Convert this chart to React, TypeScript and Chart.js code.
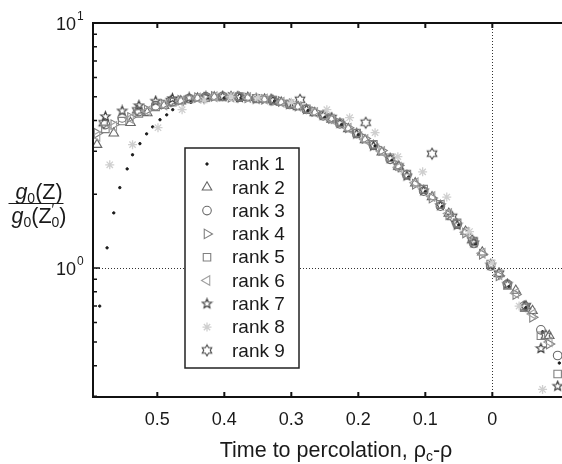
import React, { useEffect, useRef } from 'react';
import { Chart, registerables } from 'chart.js';
import { drawPoint } from 'chart.js/helpers';

Chart.register(...registerables);

// ---------------- data ----------------
const X_TICKS = [0.5, 0.4, 0.3, 0.2, 0.1, 0];
const Y_MAJOR = [1, 10];
const Y_MINOR = [0.3, 0.4, 0.5, 0.6, 0.7, 0.8, 0.9, 2, 3, 4, 5, 6, 7, 8, 9];
const LEGEND_LABELS = ['rank 1', 'rank 2', 'rank 3', 'rank 4', 'rank 5', 'rank 6', 'rank 7', 'rank 8', 'rank 9'];

const X_A = [0.59, 0.565, 0.54, 0.515, 0.49, 0.465, 0.44, 0.415, 0.39, 0.365, 0.34, 0.315, 0.29, 0.265, 0.24, 0.215, 0.19, 0.165, 0.14, 0.115, 0.09, 0.065, 0.04, 0.015, -0.01, -0.035, -0.06, -0.085];
const X_B = [0.5775, 0.5525, 0.5275, 0.5025, 0.4775, 0.4525, 0.4275, 0.4025, 0.3775, 0.3525, 0.3275, 0.3025, 0.2775, 0.2525, 0.2275, 0.2025, 0.1775, 0.1525, 0.1275, 0.1025, 0.0775, 0.0525, 0.0275, 0.0025, -0.0225, -0.0475, -0.0725, -0.0975];

const RANK1_X = [0.586, 0.575, 0.565, 0.556, 0.545, 0.537, 0.526, 0.516, 0.507, 0.496, 0.486, 0.477, 0.45, 0.425, 0.4, 0.375, 0.35, 0.325, 0.3, 0.275, 0.25, 0.225, 0.2, 0.175, 0.15, 0.125, 0.1, 0.075, 0.05, 0.025, 0.0, -0.025, -0.05, -0.075, -0.1];
const RANK1_Y = [0.7, 1.21, 1.68, 2.13, 2.54, 2.9, 3.22, 3.53, 3.77, 4.03, 4.22, 4.43, 4.75, 4.9, 4.95, 4.95, 4.9, 4.8, 4.62, 4.4, 4.12, 3.85, 3.5, 3.15, 2.75, 2.35, 2.05, 1.78, 1.5, 1.25, 1.0, 0.84, 0.69, 0.55, 0.41];
const RANK2_Y = [3.19, 3.55, 3.92, 4.3, 4.6, 4.8, 4.93, 4.98, 5.0, 4.96, 4.88, 4.74, 4.55, 4.3, 4.04, 3.7, 3.33, 2.97, 2.6, 2.22, 1.95, 1.67, 1.41, 1.16, 0.95, 0.81, 0.67, 0.53];
const RANK3_Y = [3.85, 4.1, 4.35, 4.6, 4.78, 4.92, 5.0, 5.02, 4.98, 4.92, 4.82, 4.65, 4.44, 4.18, 3.88, 3.54, 3.17, 2.78, 2.4, 2.06, 1.79, 1.51, 1.26, 1.02, 0.86, 0.7, 0.56, 0.44];
const RANK4_Y = [3.55, 3.85, 4.12, 4.42, 4.66, 4.84, 4.96, 5.02, 4.98, 4.95, 4.88, 4.78, 4.58, 4.35, 4.08, 3.74, 3.38, 3.02, 2.62, 2.2, 1.93, 1.65, 1.39, 1.14, 0.93, 0.78, 0.63, 0.49];
const RANK5_Y = [3.7, 3.98, 4.28, 4.55, 4.75, 4.9, 4.97, 4.99, 5.01, 4.93, 4.85, 4.68, 4.47, 4.22, 3.92, 3.56, 3.2, 2.82, 2.42, 2.1, 1.82, 1.53, 1.28, 1.04, 0.85, 0.69, 0.53, 0.37];
const RANK6_Y = [3.45, 3.78, 4.08, 4.38, 4.63, 4.8, 4.94, 5.0, 4.99, 4.97, 4.9, 4.75, 4.57, 4.32, 4.05, 3.72, 3.35, 2.99, 2.58, 2.23, 1.96, 1.67, 1.4, 1.15, 0.94, 0.79, 0.65, 0.5];
const RANK7_Y = [4.15, 4.38, 4.6, 4.8, 4.92, 4.95, 5.0, 5.02, 4.97, 4.9, 4.83, 4.66, 4.45, 4.2, 3.9, 3.53, 3.15, 2.8, 2.38, 2.07, 1.8, 1.5, 1.27, 1.03, 0.86, 0.7, 0.47, 0.33];
const RANK8_X = [0.571, 0.537, 0.499, 0.463, 0.43, 0.39, 0.35, 0.3, 0.247, 0.213, 0.175, 0.141, 0.104, 0.068, 0.034, 0.0, -0.04, -0.075];
const RANK8_Y = [2.64, 3.19, 3.74, 4.43, 4.85, 5.0, 4.95, 4.75, 4.43, 4.11, 3.57, 2.85, 2.47, 1.95, 1.41, 1.05, 0.7, 0.32];
const RANK9_X = [0.58, 0.53, 0.48, 0.43, 0.38, 0.33, 0.287, 0.24, 0.189, 0.14, 0.09, 0.06, 0.03, -0.01, -0.05, -0.08];
const RANK9_Y = [3.9, 4.4, 4.8, 4.95, 5.0, 4.87, 4.86, 4.1, 3.92, 2.6, 2.93, 1.62, 1.3, 0.95, 0.7, 0.53];

const FONT = '"Liberation Sans", Arial, Helvetica, sans-serif';

function pts(xs: number[], ys: number[]) {
  return xs.map((x, i) => ({ x, y: ys[i] }));
}

function starCanvas(points: number, outer: number, inner: number, color: string) {
  const c = document.createElement('canvas');
  const s = Math.ceil(outer * 2 + 3);
  c.width = s;
  c.height = s;
  const ctx = c.getContext('2d')!;
  ctx.strokeStyle = color;
  ctx.lineWidth = 1.1;
  ctx.beginPath();
  for (let i = 0; i < points * 2; i++) {
    const r = i % 2 === 0 ? outer : inner;
    const a = -Math.PI / 2 + (i * Math.PI) / points;
    const px = s / 2 + r * Math.cos(a);
    const py = s / 2 + r * Math.sin(a);
    if (i === 0) ctx.moveTo(px, py);
    else ctx.lineTo(px, py);
  }
  ctx.closePath();
  ctx.stroke();
  return c;
}

type Run = { t: string; size: number; italic?: boolean; dy?: number; noAdvance?: boolean };

function drawRuns(ctx: CanvasRenderingContext2D, runs: Run[], cx: number, baseline: number) {
  let total = 0;
  for (const r of runs) {
    ctx.font = `${r.italic ? 'italic ' : ''}${r.size}px ${FONT}`;
    if (!r.noAdvance) total += ctx.measureText(r.t).width;
  }
  let x = cx - total / 2;
  ctx.textAlign = 'left';
  ctx.textBaseline = 'alphabetic';
  for (const r of runs) {
    ctx.font = `${r.italic ? 'italic ' : ''}${r.size}px ${FONT}`;
    ctx.fillText(r.t, x, baseline + (r.dy || 0));
    if (!r.noAdvance) x += ctx.measureText(r.t).width;
  }
  return total;
}

export default function App() {
  const ref = useRef<HTMLCanvasElement>(null);

  useEffect(() => {
    const canvas = ref.current!;
    const penta = starCanvas(5, 5, 2.2, '#3a3a3a');
    const hexa = starCanvas(6, 5.5, 3.2, '#4a4a4a');

    const styles: any[] = [
      { pointStyle: 'circle', radius: 1.2, borderColor: '#1a1a1a', backgroundColor: '#1a1a1a', borderWidth: 1, rotation: 0 },
      { pointStyle: 'triangle', radius: 5.5, borderColor: '#666', backgroundColor: 'rgba(0,0,0,0)', borderWidth: 1.1, rotation: 0 },
      { pointStyle: 'circle', radius: 4.3, borderColor: '#6a6a6a', backgroundColor: 'rgba(0,0,0,0)', borderWidth: 1.1, rotation: 0 },
      { pointStyle: 'triangle', radius: 5.5, borderColor: '#808080', backgroundColor: 'rgba(0,0,0,0)', borderWidth: 1.1, rotation: 90 },
      { pointStyle: 'rect', radius: 5.3, borderColor: '#808080', backgroundColor: 'rgba(0,0,0,0)', borderWidth: 1.1, rotation: 0 },
      { pointStyle: 'triangle', radius: 5.5, borderColor: '#a0a0a0', backgroundColor: 'rgba(0,0,0,0)', borderWidth: 1.1, rotation: -90 },
      { pointStyle: penta, radius: 5, borderColor: '#3a3a3a', backgroundColor: 'rgba(0,0,0,0)', borderWidth: 1, rotation: 0 },
      { pointStyle: 'star', radius: 4.5, borderColor: '#cfcfcf', backgroundColor: '#cfcfcf', borderWidth: 1.3, rotation: 0 },
      { pointStyle: hexa, radius: 5.5, borderColor: '#4a4a4a', backgroundColor: 'rgba(0,0,0,0)', borderWidth: 1, rotation: 0 },
    ];

    const dataSets = [
      pts(RANK1_X, RANK1_Y),
      pts(X_A, RANK2_Y),
      pts(X_B, RANK3_Y),
      pts(X_A, RANK4_Y),
      pts(X_B, RANK5_Y),
      pts(X_A, RANK6_Y),
      pts(X_B, RANK7_Y),
      pts(RANK8_X, RANK8_Y),
      pts(RANK9_X, RANK9_Y),
    ];

    const order = [7, 5, 4, 3, 2, 1, 8, 6, 0];

    const datasets = order.map((i) => ({
      label: LEGEND_LABELS[i],
      data: dataSets[i],
      showLine: false,
      pointStyle: styles[i].pointStyle,
      pointRadius: styles[i].radius,
      pointRotation: styles[i].rotation,
      pointBorderColor: styles[i].borderColor,
      pointBackgroundColor: styles[i].backgroundColor,
      pointBorderWidth: styles[i].borderWidth,
      borderColor: styles[i].borderColor,
      backgroundColor: styles[i].backgroundColor,
    }));

    const decor = {
      id: 'decor',
      beforeDatasetsDraw(chart: any) {
        const { ctx, chartArea: a, scales } = chart;
        const x0 = scales.x.getPixelForValue(0);
        const y1 = scales.y.getPixelForValue(1);
        ctx.save();
        ctx.strokeStyle = '#333';
        ctx.lineWidth = 1;
        ctx.setLineDash([1, 2]);
        ctx.beginPath();
        ctx.moveTo(Math.round(x0) + 0.5, a.top);
        ctx.lineTo(Math.round(x0) + 0.5, a.bottom);
        ctx.moveTo(a.left, Math.round(y1) + 0.5);
        ctx.lineTo(a.right, Math.round(y1) + 0.5);
        ctx.stroke();
        ctx.restore();
      },
      afterDatasetsDraw(chart: any) {
        const { ctx, chartArea: a, scales } = chart;
        const xs = scales.x;
        const ys = scales.y;
        ctx.save();
        ctx.strokeStyle = '#111';
        ctx.lineWidth = 2;
        ctx.beginPath();
        ctx.moveTo(a.right + 2, a.top);
        ctx.lineTo(a.left, a.top);
        ctx.lineTo(a.left, a.bottom);
        ctx.lineTo(a.right + 2, a.bottom);
        ctx.stroke();
        ctx.lineWidth = 2;
        ctx.beginPath();
        for (const v of X_TICKS) {
          const px = xs.getPixelForValue(v);
          ctx.moveTo(px, a.top);
          ctx.lineTo(px, a.top + 5);
          ctx.moveTo(px, a.bottom);
          ctx.lineTo(px, a.bottom - 5);
        }
        ctx.stroke();
        ctx.lineWidth = 1.5;
        ctx.beginPath();
        for (const v of Y_MINOR) {
          const py = ys.getPixelForValue(v);
          ctx.moveTo(a.left, py);
          ctx.lineTo(a.left + 4, py);
        }
        for (const v of Y_MAJOR) {
          const py = ys.getPixelForValue(v);
          ctx.moveTo(a.left, py);
          ctx.lineTo(a.left + 7, py);
        }
        ctx.stroke();

        ctx.fillStyle = '#1a1a1a';
        ctx.font = `18px ${FONT}`;
        ctx.textAlign = 'center';
        ctx.textBaseline = 'alphabetic';
        for (const v of X_TICKS) {
          const px = xs.getPixelForValue(v);
          ctx.fillText(String(v), px, 425);
        }
        for (const v of Y_MAJOR) {
          const py = ys.getPixelForValue(v);
          const exp = String(Math.round(Math.log10(v)));
          ctx.font = `18px ${FONT}`;
          ctx.textAlign = 'right';
          ctx.fillText('10', 76, py + 7);
          ctx.font = `12px ${FONT}`;
          ctx.textAlign = 'left';
          ctx.fillText(exp, 77, py - 3);
        }

        ctx.fillStyle = '#1a1a1a';
        drawRuns(ctx, [
          { t: 'Time to percolation, ρ', size: 21.5 },
          { t: 'c', size: 14, dy: 4 },
          { t: '-ρ', size: 21.5 },
        ], 336, 457);

        const wNum = drawRuns(ctx, [
          { t: 'g', size: 21.5, italic: true },
          { t: '0', size: 14, dy: 4 },
          { t: '(Z)', size: 21.5 },
        ], 39, 199);
        const wDen = drawRuns(ctx, [
          { t: 'g', size: 21.5, italic: true },
          { t: '0', size: 14, dy: 4 },
          { t: '(Z', size: 21.5 },
          { t: '′', size: 14, dy: -9, noAdvance: true },
          { t: '0', size: 14, dy: 4 },
          { t: ')', size: 21.5 },
        ], 39, 223);
        const w = Math.max(wNum, wDen);
        ctx.strokeStyle = '#1a1a1a';
        ctx.lineWidth = 1.2;
        ctx.beginPath();
        ctx.moveTo(39 - w / 2 - 3, 203.5);
        ctx.lineTo(39 + w / 2 - 3, 203.5);
        ctx.stroke();

        const lx = 185, ly = 148, lw = 114, lh = 220;
        ctx.fillStyle = '#fff';
        ctx.fillRect(lx, ly, lw, lh);
        ctx.strokeStyle = '#222';
        ctx.lineWidth = 1.5;
        ctx.strokeRect(lx, ly, lw, lh);
        for (let i = 0; i < LEGEND_LABELS.length; i++) {
          const cy = 164 + i * 23.3;
          const st = styles[i];
          ctx.strokeStyle = st.borderColor;
          ctx.fillStyle = st.backgroundColor;
          ctx.lineWidth = st.borderWidth;
          drawPoint(ctx, { pointStyle: st.pointStyle, rotation: st.rotation, radius: st.radius, borderWidth: st.borderWidth } as any, 207, cy);
          ctx.fillStyle = '#1a1a1a';
          ctx.font = `19px ${FONT}`;
          ctx.textAlign = 'left';
          ctx.textBaseline = 'middle';
          ctx.fillText(LEGEND_LABELS[i], 232, cy + 1);
        }
        ctx.restore();
      },
    };

    const chart = new Chart(canvas, {
      type: 'scatter',
      data: { datasets },
      options: {
        responsive: false,
        animation: false,
        layout: { autoPadding: false, padding: { left: 93, top: 23, right: 0, bottom: 67 } },
        plugins: { legend: { display: false }, tooltip: { enabled: false } },
        scales: {
          x: { type: 'linear', min: -0.104, max: 0.596, reverse: true, display: false },
          y: { type: 'logarithmic', min: 0.298, max: 10, display: false },
        },
      },
      plugins: [decor],
    } as any);

    return () => chart.destroy();
  }, []);

  return (
    <div style={{ position: 'fixed', left: 0, top: 0, width: 562, height: 464, background: '#fff' }}>
      <canvas ref={ref} width={562} height={464} style={{ display: 'block' }} />
    </div>
  );
}
